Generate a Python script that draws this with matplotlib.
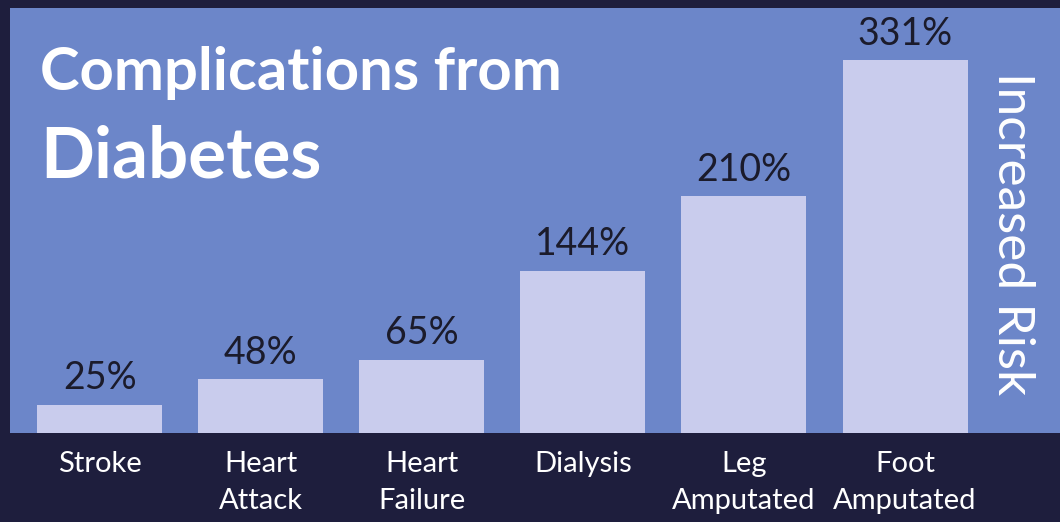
import matplotlib
matplotlib.use("Agg")
import matplotlib.pyplot as plt
import numpy as np

# chart data
categories = ["Stroke", "Heart\nAttack", "Heart\nFailure", "Dialysis", "Leg\nAmputated", "Foot\nAmputated"]
increase_pct = [25, 48, 65, 144, 210, 331]
value_labels = ["25%", "48%", "65%", "144%", "210%", "331%"]

W, H = 1060, 522
plt.rcParams['font.family'] = ['Lato', 'DejaVu Sans']

fig = plt.figure(figsize=(W / 100, H / 100), dpi=100, facecolor='#1e1e3d')

# blue panel holds the bars
ax = fig.add_axes([10 / W, (H - 433) / H, 1050 / W, (433 - 8) / H])
ax.set_facecolor('#6c86c9')

x = np.arange(len(categories))
bars = ax.bar(x, increase_pct, width=0.776, color='#c9cced', edgecolor='none')

for b, lab in zip(bars, value_labels):
    ax.annotate(lab, (b.get_x() + b.get_width() / 2, b.get_height()),
                xytext=(0, 6), textcoords='offset points',
                ha='center', va='bottom', fontsize=27, color='#1b1b2b')

ax.set_xlim(-0.556, 5.962)
ax.set_ylim(0, 377)
ax.set_yticks([])
ax.set_xticks(x)
ax.set_xticklabels(categories, color='white', fontsize=21, linespacing=1.5)
ax.tick_params(axis='x', length=0, pad=13)
for s in ax.spines.values():
    s.set_visible(False)

# title block
fig.text(40 / W, 1 - 90 / H, "Complications from", color='white',
         fontsize=43, fontweight='bold', va='baseline', ha='left')
fig.text(40 / W, 1 - 178 / H, "Diabetes", color='white',
         fontsize=51, fontweight='bold', va='baseline', ha='left')

# side label
fig.text(1012 / W, 1 - 234 / H, "Increased Risk", color='white',
         fontsize=37, rotation=270, ha='center', va='center')

fig.savefig("out.png", dpi=100, facecolor=fig.get_facecolor())
